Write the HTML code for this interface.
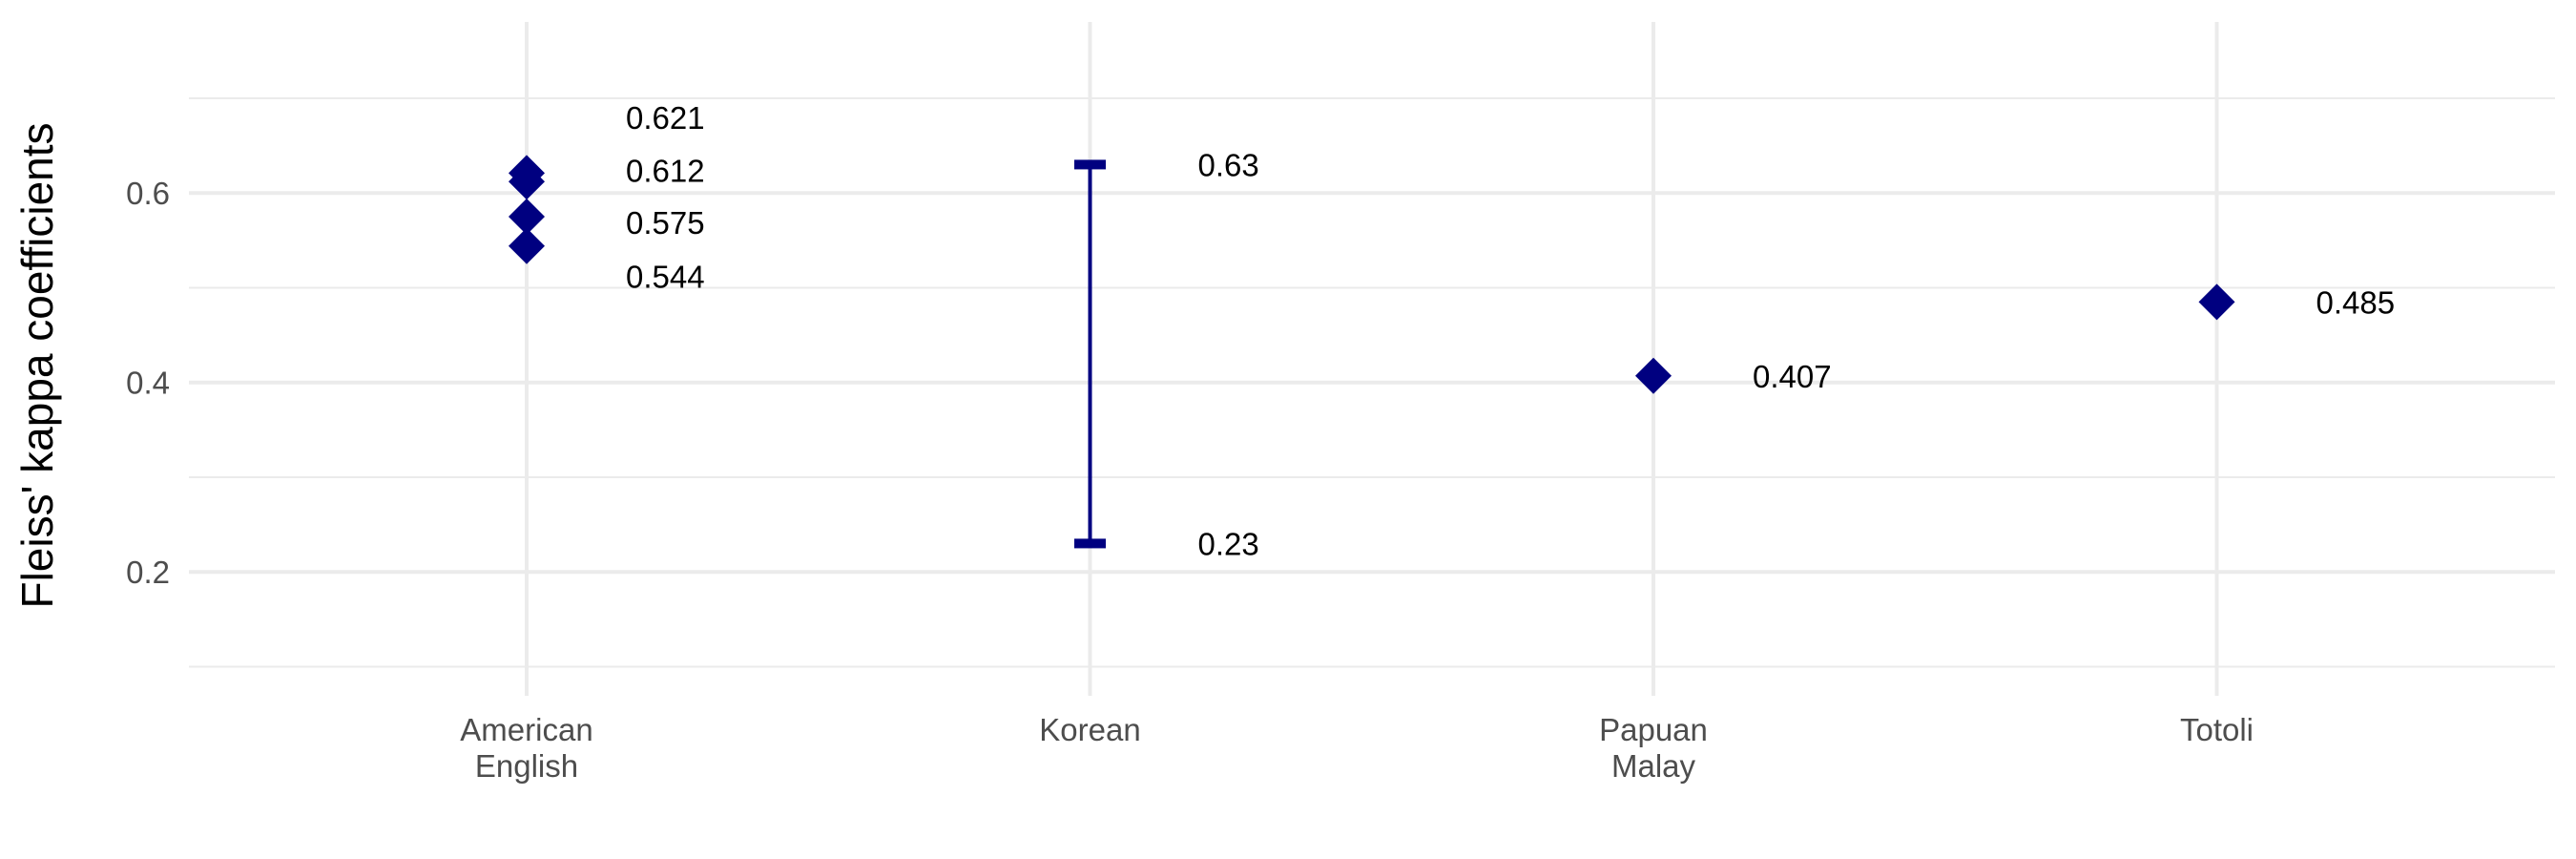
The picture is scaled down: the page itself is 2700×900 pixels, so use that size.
<!DOCTYPE html>
<html><head><meta charset="utf-8"><style>
html,body{margin:0;padding:0;background:#fff;}
svg{display:block;font-family:"Liberation Sans",Arial,sans-serif;}
</style></head><body>
<svg id="chart" width="2700" height="900" viewBox="0 0 2700 900" xmlns="http://www.w3.org/2000/svg">
<g id="grid"></g><g id="marks"></g><g id="labels"></g><g id="axes"></g>
<text transform="translate(55,383) rotate(-90)" text-anchor="middle" font-size="46" fill="#000">Fleiss' kappa coefficients</text>
</svg>
<script>
const categories = ["American\nEnglish","Korean","Papuan\nMalay","Totoli"];
const pointCat = [0,0,0,0,2,3];
const pointVals = [0.621,0.612,0.575,0.544,0.407,0.485];
const pointLabelVals = [0.680,0.624,0.569,0.512,0.407,0.485];
const rangeCat = [1];
const rangeLow = [0.23];
const rangeHigh = [0.63];
const yMajor = [0.2,0.4,0.6];
const yMinor = [0.1,0.3,0.5,0.7];
const yTickLabels = ["0.2","0.4","0.6"];

const NS="http://www.w3.org/2000/svg";
const pLeft=198,pRight=2678,pTop=23,pBottom=729;
function yS(v){return 400.7-(v-0.4)*992.5;}
function xS(i){return 552+i*590.5;}
function mk(parent,tag,attrs){const e=document.createElementNS(NS,tag);for(const k in attrs)e.setAttribute(k,attrs[k]);document.getElementById(parent).appendChild(e);return e;}

yMinor.forEach(v=>{const e=mk('grid','line',{x1:pLeft,x2:pRight,y1:yS(v),y2:yS(v),stroke:'#ebebeb','stroke-width':2});

});
yMajor.forEach((v,i)=>{const e=mk('grid','line',{x1:pLeft,x2:pRight,y1:yS(v),y2:yS(v),stroke:'#ebebeb','stroke-width':4});


const t=mk('axes','text',{x:178,y:yS(v)+12,'text-anchor':'end','font-size':33,fill:'#4d4d4d'});t.textContent=yTickLabels[i];

});
categories.forEach((c,i)=>{const e=mk('grid','line',{x1:xS(i),x2:xS(i),y1:pTop,y2:pBottom,stroke:'#ebebeb','stroke-width':4});


const t=mk('axes','text',{x:xS(i),y:776,'text-anchor':'middle','font-size':33,fill:'#4d4d4d'});


c.split('\n').forEach((ln,j)=>{const s=document.createElementNS(NS,'tspan');s.setAttribute('x',xS(i));s.setAttribute('dy',j?38:0);s.textContent=ln;t.appendChild(s);});});

rangeCat.forEach((c,i)=>{const x=xS(c),y1=yS(rangeLow[i]),y2=yS(rangeHigh[i]);
const l=mk('marks','line',{x1:x,x2:x,y1:y1,y2:y2,stroke:'#000080','stroke-width':4});


[y1,y2].forEach((y,k)=>{const r=mk('marks','rect',{x:x-16.5,y:y-5,width:33,height:10,fill:'#000080'});


const v=k?rangeHigh[i]:rangeLow[i];
const t=mk('labels','text',{x:x+113,y:y+12,'font-size':33,fill:'#000'});t.textContent=String(v);

});});

pointVals.forEach((v,i)=>{const x=xS(pointCat[i]),y=yS(v),h=19;
const p=mk('marks','polygon',{points:`${x},${y-h} ${x+h},${y} ${x},${y+h} ${x-h},${y}`,fill:'#000080'});


const t=mk('labels','text',{x:x+104,y:yS(pointLabelVals[i])+12,'font-size':33,fill:'#000'});t.textContent=v.toFixed(3);

});
</script>
</body></html>
